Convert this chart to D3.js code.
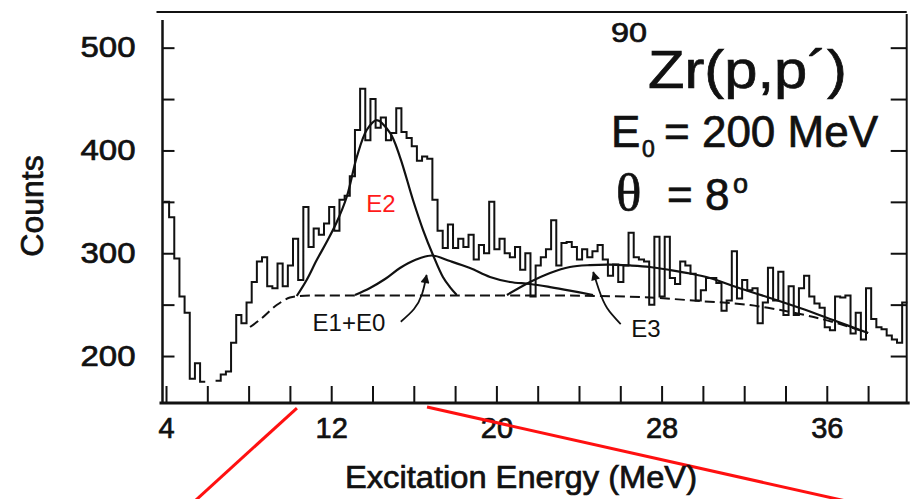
<!DOCTYPE html>
<html>
<head>
<meta charset="utf-8">
<script src="https://cdn.jsdelivr.net/npm/d3@7"></script>
<style>
  html, body { margin: 0; padding: 0; background: #fff; }
  svg { display: block; }
  text { font-family: "Liberation Sans", Arial, Helvetica, sans-serif; fill: #111; }
  text.heavy { stroke: #111; stroke-width: 0.7px; }
</style>
</head>
<body>
<svg id="chart" width="912" height="499"></svg>
<script>
// 90Zr(p,p') spectrum, 0.25 MeV bins beginning at 3.9 MeV (null = below the plotted range)
const binStart = 3.9;
const binWidth = 0.25;
const counts = [
  350, 335, 295, 258, 242, 178, 193, 175, null, null,
  176, 182, 185, 213, 240, 232, 252, 272, 292, 296,
  268, 266, 290, 268, 288, 314, 274, 345, 306, 324,
  318, 329, 345, 322, 352, 356, 375, 420, 460, 410,
  450, 422, 432, 410, 417, 441, 418, 412, 404, 390,
  394, 392, 352, 322, 305, 328, 305, 314, 306, 318,
  294, 308, 300, 350, 304, 314, 300, 296, 306, 284,
  300, 258, 288, 296, 304, 332, 288, 310, 311, 306,
  294, 304, 296, 302, 308, 294, 278, 289, 272, 288,
  320, 296, 294, 292, 250, 316, 258, 316, 276, 270,
  292, 288, 280, 254, 264, 276, 276, 271, 244, 254,
  302, 256, 274, 264, 266, 232, 252, 286, 254, 282,
  240, 268, 240, 266, 278, 258, 251, 247, 228, 225,
  258, 257, 259, 222, 242, 216, 266, 236, 228, 226,
  220, 216, 213, 252
];

// axis ticks and labels
const xTicks = d3.range(4, 39, 2);
const xTickLabels = [4, 12, 20, 28, 36];
const yTicks = [200, 250, 300, 350, 400, 450, 500];
const yTickLabels = [200, 300, 400, 500];

// fitted components, [energy (MeV), counts]
const backgroundFit = [
  [8.07, 228.2], [8.65, 237.0], [9.36, 249.6], [10.0, 256.9], [10.49, 258.4],
  [12.91, 258.9], [17.75, 258.9], [22.60, 258.9], [25.02, 258.4], [27.44, 256.9],
  [29.86, 253.5], [32.28, 249.6], [34.70, 240.9], [36.30, 233.1], [38.00, 222.4]
];
const e2Fit = [
  [10.33, 258.4], [10.81, 274.0], [11.30, 293.4], [11.78, 310.9], [12.27, 330.4],
  [12.75, 354.7], [13.24, 393.6], [13.72, 419.9], [14.20, 429.6], [14.85, 417.0],
  [15.33, 393.6], [15.96, 351.8], [16.45, 322.6], [16.93, 298.3], [17.41, 276.9],
  [17.75, 267.1], [18.08, 259.4]
];
const e1e0Fit = [
  [13.15, 259.4], [13.88, 266.2], [14.61, 274.9], [15.33, 285.6], [16.06, 293.4],
  [16.88, 297.8], [17.75, 292.4], [18.72, 285.6], [19.69, 276.9], [20.66, 272.0],
  [21.63, 270.1], [22.60, 267.1], [23.56, 263.7], [24.68, 259.4]
];
const e3Fit = [
  [20.51, 259.4], [21.63, 272.0], [22.60, 280.8], [23.56, 286.6], [24.53, 288.5],
  [25.50, 289.0], [26.47, 288.1], [27.44, 286.6], [28.41, 283.7], [29.38, 280.3],
  [30.34, 275.9], [31.46, 268.1], [33.11, 257.4], [34.70, 246.7], [36.30, 235.0],
  [38.00, 222.4]
];

// component labels and their pointer arrows
const componentLabels = [
  { text: "E2", e: 14.41, c: 340.1, color: "#ff1a1a" },
  { text: "E1+E0", e: 12.86, c: 224.3, color: "#111" },
  { text: "E3", e: 27.24, c: 218.5, color: "#111" }
];
const pointerArrows = [
  [[15.37, 233.4], [16.01, 245.7], [16.40, 260.3], [16.62, 278.8]],
  [[26.02, 231.1], [25.36, 246.7], [24.97, 264.2], [24.69, 281.7]]
];
// red guide lines running below the energy axis
const guideLines = [
  [[10.34, 149.4], [4.92, 50.2]],
  [[16.64, 150.4], [38.87, 50.2]]
];

const svg = d3.select("#chart");

const x = d3.scaleLinear().domain([3.83, 39.87]).range([162.5, 906.7]);
const y = d3.scaleLinear().domain([154.3, 534.7]).range([403, 12]);

const [xl, xr] = x.range();
const [yb, yt] = y.range();

// arrowhead marker
svg.append("defs").append("marker")
  .attr("id", "head")
  .attr("viewBox", "0 0 10 10")
  .attr("refX", 9).attr("refY", 5)
  .attr("markerWidth", 10).attr("markerHeight", 9)
  .attr("markerUnits", "userSpaceOnUse")
  .attr("orient", "auto")
  .append("path").attr("d", "M0,0 L10,5 L0,10 Z").attr("fill", "#111");

// frame
const frame = svg.append("g").attr("stroke", "#111").attr("fill", "none");
frame.append("line").attr("x1", xl - 6).attr("x2", xr).attr("y1", yt).attr("y2", yt).attr("stroke-width", 2);
frame.append("line").attr("x1", xl).attr("x2", xl).attr("y1", yt + 8).attr("y2", yb).attr("stroke-width", 2.5);
frame.append("line").attr("x1", xr).attr("x2", xr).attr("y1", yt + 2).attr("y2", yb).attr("stroke-width", 2);

// bottom axis: inward ticks every 2 MeV
const xAxis = d3.axisBottom(x)
  .tickValues(xTicks)
  .tickSizeInner(-17).tickSizeOuter(0).tickPadding(14)
  .tickFormat(d => xTickLabels.includes(d) ? d : "");
const gx = svg.append("g").attr("transform", `translate(0,${yb})`).call(xAxis);
gx.select(".domain").remove();
gx.selectAll(".tick line").attr("stroke", "#111").attr("stroke-width", 2);
gx.selectAll(".tick text")
  .attr("class", "heavy")
  .attr("font-size", 29).attr("font-family", "Liberation Sans, Arial, sans-serif").attr("fill", "#111");
svg.append("line").attr("x1", xl - 3).attr("x2", xr + 3).attr("y1", yb).attr("y2", yb)
  .attr("stroke", "#111").attr("stroke-width", 3);

// left axis
const yAxis = d3.axisLeft(y)
  .tickValues(yTicks)
  .tickSizeInner(-12).tickSizeOuter(0).tickPadding(27)
  .tickFormat(d => yTickLabels.includes(d) ? d : "");
const gy = svg.append("g").attr("transform", `translate(${xl},0)`).call(yAxis);
gy.select(".domain").remove();
gy.selectAll(".tick line").attr("stroke", "#111").attr("stroke-width", 2);
gy.selectAll(".tick text")
  .attr("class", "heavy")
  .attr("font-size", 29).attr("font-family", "Liberation Sans, Arial, sans-serif").attr("fill", "#111")
  .filter(function () { return this.textContent !== ""; })
  .attr("textLength", 55).attr("lengthAdjust", "spacingAndGlyphs");

// right axis, ticks only
const yAxisR = d3.axisLeft(y).tickValues(yTicks).tickSizeInner(16).tickSizeOuter(0).tickFormat("");
const gyr = svg.append("g").attr("transform", `translate(${xr},0)`).call(yAxisR);
gyr.select(".domain").remove();
gyr.selectAll(".tick line").attr("stroke", "#111").attr("stroke-width", 2);

// histogram as a step outline
const steps = counts.flatMap((c, i) => [
  { e: binStart + i * binWidth, c },
  { e: binStart + (i + 1) * binWidth, c }
]);
const stepLine = d3.line()
  .defined(d => d.c != null)
  .x(d => x(d.e))
  .y(d => y(d.c));
svg.append("path")
  .attr("d", stepLine(steps))
  .attr("fill", "none").attr("stroke", "#111").attr("stroke-width", 2)
  .attr("stroke-linejoin", "miter");

// fit curves
const fitLine = d3.line().x(d => x(d[0])).y(d => y(d[1])).curve(d3.curveCatmullRom.alpha(0.5));
svg.append("path").attr("d", fitLine(backgroundFit))
  .attr("fill", "none").attr("stroke", "#111").attr("stroke-width", 2).attr("stroke-dasharray", "10,5");
[e2Fit, e1e0Fit, e3Fit].forEach(pts => {
  svg.append("path").attr("d", fitLine(pts))
    .attr("fill", "none").attr("stroke", "#111").attr("stroke-width", 2.2);
});

// pointer arrows
const arrowLine = d3.line().x(d => x(d[0])).y(d => y(d[1])).curve(d3.curveNatural);
pointerArrows.forEach(pts => {
  svg.append("path").attr("d", arrowLine(pts))
    .attr("fill", "none").attr("stroke", "#111").attr("stroke-width", 1.8)
    .attr("marker-end", "url(#head)");
});

// component labels
svg.selectAll("text.comp").data(componentLabels).join("text")
  .attr("class", "comp")
  .attr("x", d => x(d.e)).attr("y", d => y(d.c))
  .attr("text-anchor", "middle").attr("font-size", 24)
  .style("fill", d => d.color)
  .text(d => d.text);

// red guide lines
const guide = d3.line().x(d => x(d[0])).y(d => y(d[1]));
guideLines.forEach(pts => {
  svg.append("path").attr("d", guide(pts))
    .attr("fill", "none").attr("stroke", "#ff1010").attr("stroke-width", 3);
});

// axis titles
svg.append("text").attr("class", "heavy")
  .attr("transform", "translate(43,206) rotate(-90)")
  .attr("text-anchor", "middle").attr("font-size", 32)
  .text("Counts");
svg.append("text").attr("class", "heavy")
  .attr("x", 521).attr("y", 488)
  .attr("text-anchor", "middle").attr("font-size", 32)
  .attr("textLength", 352).attr("lengthAdjust", "spacingAndGlyphs")
  .text("Excitation Energy (MeV)");

// reaction title block
const title = svg.append("g");
title.append("text").attr("class", "heavy").attr("x", 611).attr("y", 42).attr("font-size", 28)
  .attr("textLength", 36).attr("lengthAdjust", "spacingAndGlyphs").text("90");
title.append("text").attr("class", "heavy").attr("x", 648).attr("y", 88).attr("font-size", 53)
  .attr("textLength", 199).attr("lengthAdjust", "spacingAndGlyphs").text("Zr(p,p´)");
title.append("text").attr("class", "heavy").attr("x", 611).attr("y", 147).attr("font-size", 44).text("E");
title.append("text").attr("class", "heavy").attr("x", 642).attr("y", 157).attr("font-size", 23).text("0");
title.append("text").attr("class", "heavy").attr("x", 664).attr("y", 147).attr("font-size", 44).text("= 200 MeV");
title.append("text").attr("class", "heavy").attr("x", 616).attr("y", 210).attr("font-size", 53)
  .style("font-family", "'Liberation Serif', 'Times New Roman', serif").text("θ");
title.append("text").attr("class", "heavy").attr("x", 667).attr("y", 210).attr("font-size", 44).text("= 8");
title.append("text").attr("class", "heavy").attr("x", 733).attr("y", 193).attr("font-size", 27).text("o");
</script>
</body>
</html>
